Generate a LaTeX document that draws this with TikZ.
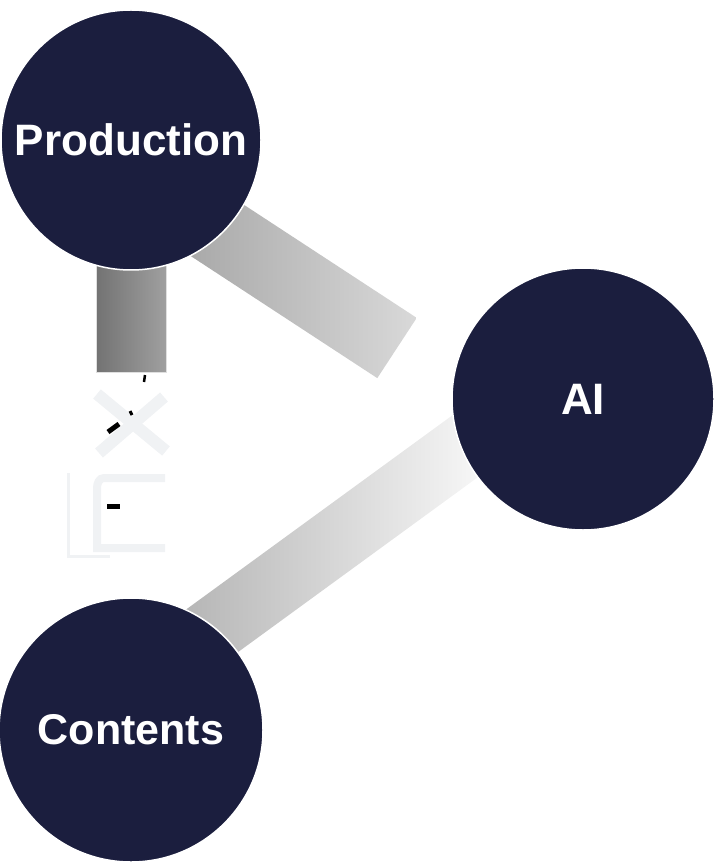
\documentclass[tikz,border=0pt]{standalone}
\usepackage{fontspec}
\setmainfont{Liberation Sans}
\usetikzlibrary{calc}
\pgfdeclarelayer{bg}
\pgfsetlayers{bg,main}
\definecolor{navy}{HTML}{1B1E3E}
\definecolor{faint}{HTML}{F0F2F4}
\tikzset{
  hub/.style={circle, fill=navy, draw=white, line width=1.5pt, inner sep=0pt,
    minimum size=#1, text=white, font=\bfseries\fontsize{44}{48}\selectfont},
  ghost/.style={draw=faint, line width=12pt},
  speck/.style={draw=black, line width=5pt}
}
\begin{document}
\begin{tikzpicture}[x=1pt,y=-1pt]
\useasboundingbox (0,0) rectangle (716,866);
\node[hub=260pt] (prod) at (131,140) {Production};
\node[hub=262pt] (ai) at (583,399) {AI};
\node[hub=264pt, font=\bfseries\fontsize{43}{46}\selectfont] (cont) at (131,730) {Contents};
\begin{pgfonlayer}{bg}
  % Production -> AI bar
  \begin{scope}[shift={($(prod.center)+(266,208)$)}, rotate=-33.2]
    \shade[left color=gray!80!white, right color=gray!30!white]
      (-317,-36) rectangle (0,36);
  \end{scope}
  % Contents -> AI bar
  \begin{scope}[shift={($(cont.center)+(89,-105)$)}, rotate=36.1]
    \shade[left color=gray!70!white, middle color=gray!25!white, right color=white]
      (-110,-32.5) rectangle (345,32.5);
  \end{scope}
  % vertical stub under Production
  \shade[left color=gray!90!black, right color=gray!75!white, draw=gray!25!white, line width=1pt]
    (96,255) rectangle (166,372);
\end{pgfonlayer}
% faint residual marks
\draw[ghost] (97,394) -- (166,451);
\draw[ghost] (164,397) -- (99,453);
\draw[ghost, line width=3pt] (68,473) -- (68,556) -- (110,556);
\draw[ghost, line width=8pt] (165,478) -- (104,478) to[out=180,in=90] (97,488) -- (97,548) -- (165,548);
\draw[speck] (108,432) -- (119,424);
\draw[speck, line width=3pt] (130,411) -- (132,415);
\draw[speck, line width=2.5pt] (145,375) -- (144,382);
\draw[speck, line width=5pt] (107,506) -- (120,506);
\end{tikzpicture}
\end{document}
